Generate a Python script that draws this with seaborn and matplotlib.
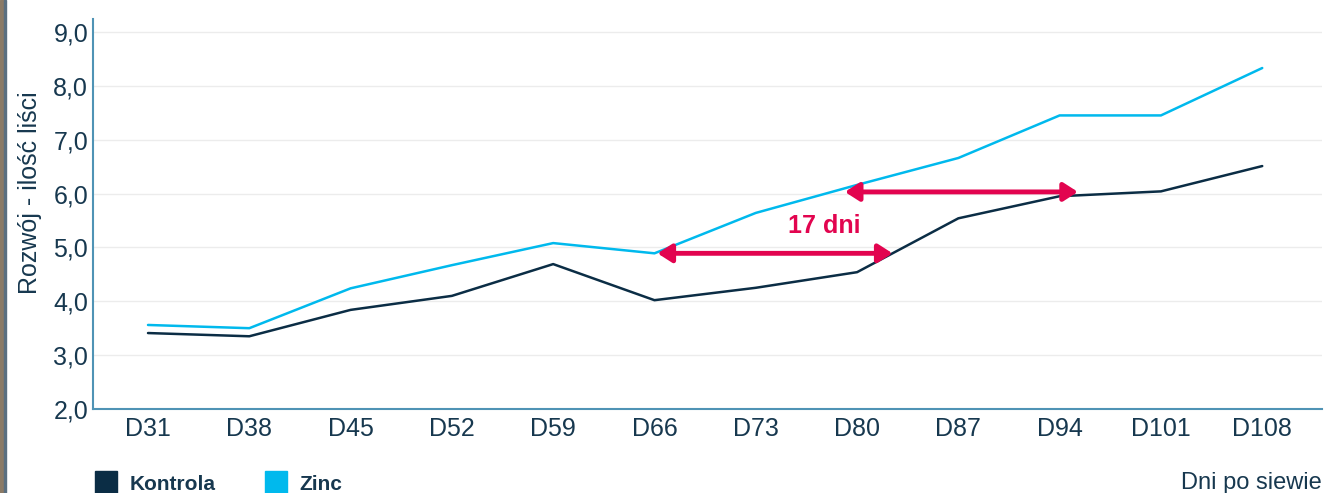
import matplotlib
matplotlib.use("Agg")
import matplotlib.pyplot as plt
import seaborn as sns
import pandas as pd
from matplotlib.lines import Line2D
from matplotlib.patches import Rectangle

days = ["D31", "D38", "D45", "D52", "D59", "D66", "D73", "D80", "D87", "D94", "D101", "D108"]
kontrola = [3.41, 3.35, 3.84, 4.10, 4.69, 4.02, 4.25, 4.54, 5.54, 5.95, 6.04, 6.51]
zinc = [3.56, 3.50, 4.24, 4.67, 5.08, 4.89, 5.64, 6.16, 6.66, 7.45, 7.45, 8.33]
series_names = ["Kontrola", "Zinc"]
y_ticks = [2, 3, 4, 5, 6, 7, 8, 9]
annotation_text = "17 dni"

NAVY = "#0b2d45"
BLUE = "#00b9ed"
RED = "#e2044f"
TEXT = "#17384f"
SPINE = "#4f93b5"

sns.set_theme(style="white")
plt.rcParams["font.family"] = ["Liberation Sans", "DejaVu Sans"]

df = pd.DataFrame({
    "day": days * 2,
    "x": list(range(len(days))) * 2,
    "value": kontrola + zinc,
    "series": [series_names[0]] * len(days) + [series_names[1]] * len(days),
})

fig = plt.figure(figsize=(13.25, 4.93), dpi=100)
ax = fig.add_axes([93 / 1325, 1 - 409 / 493, (1322 - 93) / 1325, (409 - 19) / 493])

sns.lineplot(data=df, x="x", y="value", hue="series",
             palette={series_names[0]: NAVY, series_names[1]: BLUE},
             linewidth=1.8, ax=ax, legend=False, sort=False)

ax.set_xlim(-0.543, 11.59)
ax.set_ylim(2, 9.24)
ax.set_yticks(y_ticks)
ax.set_yticklabels([f"{v:.1f}".replace(".", ",") for v in y_ticks], fontsize=18, color=TEXT)
ax.set_xticks(range(len(days)))
ax.set_xticklabels(days, fontsize=18, color=TEXT)
ax.tick_params(axis="both", length=0)
ax.tick_params(axis="y", pad=3.5)
ax.tick_params(axis="x", pad=6)
ax.grid(axis="y", color="#ececec", linewidth=1)
ax.set_axisbelow(True)
for s in ["top", "right"]:
    ax.spines[s].set_visible(False)
for s in ["left", "bottom"]:
    ax.spines[s].set_color(SPINE)
    ax.spines[s].set_linewidth(1.5)

ax.set_xlabel("")
ax.set_ylabel("Rozwój - ilość liści", fontsize=18, color=TEXT)
ax.yaxis.set_label_coords(-0.0415, 0.554)

# Annotation arrows (17-day shift)
arrow_kw = dict(arrowstyle="<|-|>,head_length=0.7,head_width=0.45", color=RED, lw=3.5,
                shrinkA=0, shrinkB=0)
ax.annotate("", xy=(7.35, 4.89), xytext=(5.03, 4.89), arrowprops=arrow_kw)
ax.annotate("", xy=(9.18, 6.03), xytext=(6.88, 6.03), arrowprops=arrow_kw)
ax.text(6.68, 5.40, annotation_text, color=RED, fontsize=18, fontweight="bold",
        ha="center", va="center")

# Legend
handles = [Line2D([0], [0], marker="s", linestyle="none", markersize=16,
                  markerfacecolor=c, markeredgecolor=c) for c in (NAVY, BLUE)]
leg = fig.legend(handles, series_names, loc="center left",
                 bbox_to_anchor=(95 / 1325, 1 - 484 / 493),
                 ncol=2, frameon=False, borderpad=0, borderaxespad=0,
                 handlelength=1.05, handletextpad=0.6, columnspacing=2.4,
                 prop={"size": 15, "weight": "bold"})
for t in leg.get_texts():
    t.set_color(TEXT)

fig.text(1322 / 1325, 1 - 483 / 493, "Dni po siewie", ha="right", va="center",
         fontsize=17, color=TEXT)

# left image edge strip
fig.patches.append(Rectangle((0, 0), 4 / 1325, 1, transform=fig.transFigure,
                             color="#8a7a66", zorder=-1))
fig.patches.append(Rectangle((4 / 1325, 0), 2 / 1325, 1, transform=fig.transFigure,
                             color="#5a6f80", zorder=-1))

fig.savefig("out.png", dpi=100, facecolor="white")
